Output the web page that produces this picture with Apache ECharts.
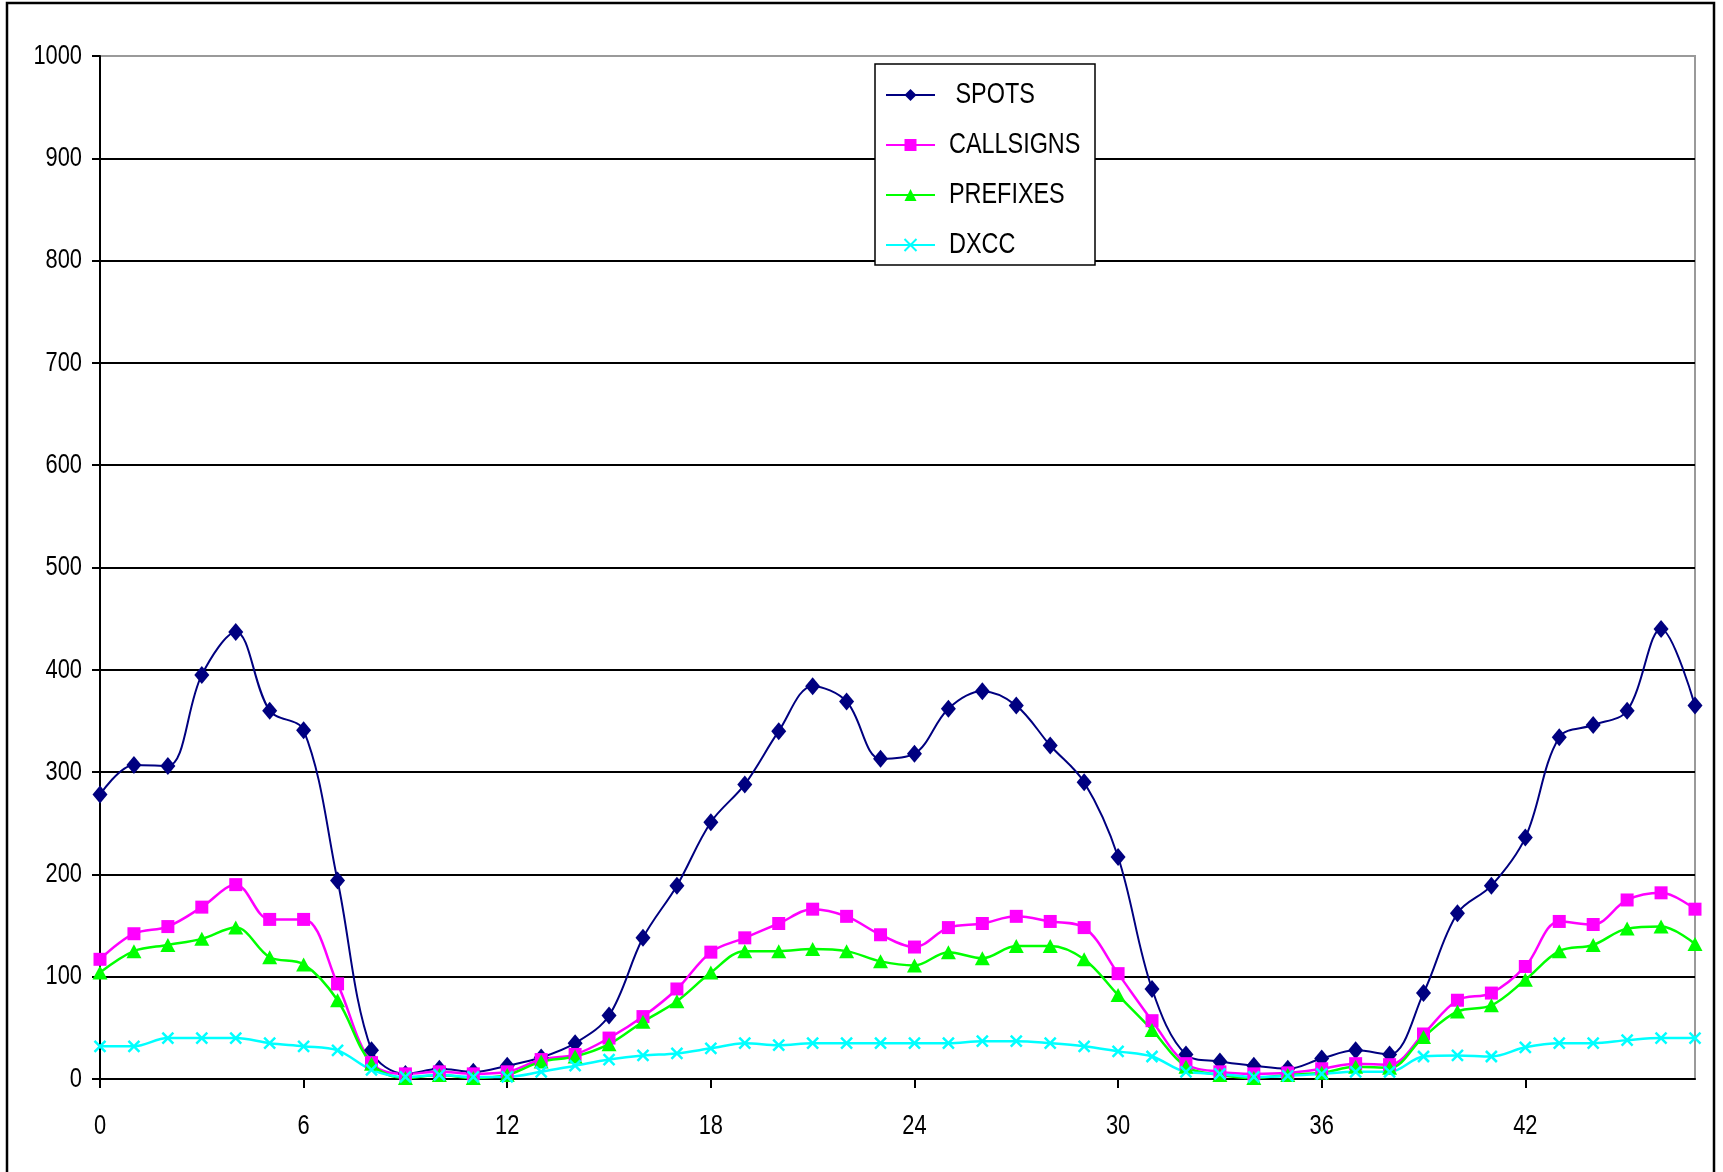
<!DOCTYPE html>
<html>
<head>
<meta charset="utf-8">
<script src="https://cdn.jsdelivr.net/npm/echarts@6/dist/echarts.min.js"></script>
<style>
  html, body { margin: 0; padding: 0; background: #fff; }
  #chart { width: 1723px; height: 1172px; }
</style>
</head>
<body>
<div id="chart"></div>
<script>
// Hour index along the x axis (0..47)
const hours = Array.from({ length: 48 }, (_, i) => String(i));

const spots = [278, 307, 306, 395, 437, 360, 341, 194, 28, 5, 10, 7, 13, 21, 35, 62,
  138, 189, 251, 288, 340, 384, 369, 313, 318, 362, 379, 365, 326, 290, 217, 88,
  24, 17, 13, 10, 20, 28, 24, 84, 162, 189, 236, 334, 346, 360, 440, 365];

const callsigns = [117, 142, 149, 168, 190, 156, 156, 93, 16, 5, 7, 5, 7, 19, 24, 40,
  61, 88, 124, 138, 152, 166, 159, 141, 129, 148, 152, 159, 154, 148, 103, 57,
  15, 7, 5, 6, 10, 15, 14, 44, 77, 84, 110, 154, 151, 175, 182, 166];

const prefixes = [104, 125, 131, 137, 148, 119, 112, 77, 15, 1, 4, 1, 4, 17, 22, 34,
  56, 76, 104, 125, 125, 127, 125, 115, 111, 124, 118, 130, 130, 117, 82, 48,
  12, 4, 1, 4, 6, 12, 11, 41, 66, 72, 97, 125, 131, 147, 149, 132];

const dxcc = [32, 32, 40, 40, 40, 35, 32, 28, 9, 2, 4, 2, 2, 7, 13, 19,
  23, 25, 30, 35, 33, 35, 35, 35, 35, 35, 37, 37, 35, 32, 27, 22,
  7, 5, 2, 3, 5, 7, 7, 22, 23, 22, 31, 35, 35, 38, 40, 40];

const yMin = 0, yMax = 1000, yStep = 100;

const FONT = '"Liberation Sans", Arial, sans-serif';
const crossPath = 'path://M0,0L10,10M10,0L0,10';

function lineSeries(name, data, color, symbol, size, width, extra) {
  return Object.assign({
    name: name,
    type: 'line',
    data: data,
    smooth: 0.35,
    symbol: symbol,
    symbolSize: size,
    showAllSymbol: true,
    lineStyle: { color: color, width: width },
    itemStyle: { color: color, borderColor: color, borderWidth: 0 },
    emphasis: { disabled: true },
    animation: false
  }, extra || {});
}

const chart = echarts.init(document.getElementById('chart'), null, { renderer: 'canvas' });

chart.setOption({
  backgroundColor: '#fff',
  animation: false,
  textStyle: { fontFamily: FONT },
  grid: {
    left: 100, right: 28, top: 56, bottom: 93,
    show: true, borderColor: '#9a9a9a', borderWidth: 2, backgroundColor: 'transparent'
  },
  legend: {
    orient: 'vertical',
    left: 875, top: 64,
    padding: [16, 14, 6, 10],
    itemGap: 20,
    itemWidth: 49, itemHeight: 15,
    textStyle: {
      fontFamily: FONT, fontSize: 30, color: '#000', lineHeight: 30, padding: [0, 0, 0, 9]
    },
    data: [' SPOTS', 'CALLSIGNS', 'PREFIXES', 'DXCC']
  },
  xAxis: {
    type: 'category',
    data: hours,
    boundaryGap: false,
    axisLine: { lineStyle: { color: '#000', width: 2 } },
    axisTick: { show: true, interval: 5, length: 9, lineStyle: { color: '#000', width: 2 } },
    axisLabel: { interval: 5, fontFamily: FONT, fontSize: 28, color: '#000', margin: 33 },
    splitLine: { show: false }
  },
  yAxis: {
    type: 'value',
    min: yMin, max: yMax, interval: yStep,
    axisLine: { show: true, lineStyle: { color: '#000', width: 2 } },
    axisTick: { show: true, length: 8, lineStyle: { color: '#000', width: 2 } },
    axisLabel: { fontFamily: FONT, fontSize: 28, color: '#000', margin: 18, formatter: v => String(v) },
    splitLine: { show: true, showMaxLine: false, lineStyle: { color: '#000', width: 2 } }
  },
  graphic: [
    // legend frame, drawn over the grid lines
    {
      type: 'rect',
      shape: { x: 875, y: 64, width: 220, height: 201 },
      style: { fill: '#fff', stroke: '#000', lineWidth: 1.5 },
      silent: true, z: 3
    },
    // outer chart frame
    {
      type: 'rect',
      shape: { x: 7, y: 3, width: 1707, height: 1200 },
      style: { fill: 'none', stroke: '#000', lineWidth: 2.5 },
      silent: true, z: 100
    }
  ],
  series: [
    lineSeries(' SPOTS', spots, '#000080', 'diamond', [15, 18], 2),
    lineSeries('CALLSIGNS', callsigns, '#ff00ff', 'rect', 13, 2.5),
    lineSeries('PREFIXES', prefixes, '#00ff00', 'triangle', [15, 14], 2.5),
    lineSeries('DXCC', dxcc, '#00ffff', crossPath, 11, 2.5, {
      itemStyle: { color: '#00ffff', borderColor: '#00ffff', borderWidth: 2.5 }
    })
  ]
});

// Narrow the text glyphs horizontally (condensed look), keeping each anchor fixed.
(function condenseText(factor) {
  const zr = chart.getZr();
  const list = zr.storage.getDisplayList(true);
  list.forEach(function (el) {
    if (el.type === 'tspan' && el.style && typeof el.style.text === 'string') {
      el.originX = el.style.x || 0;
      el.originY = el.style.y || 0;
      el.scaleX = factor;
      el.markRedraw();
    }
  });
  zr.refreshImmediately();
})(0.78);
</script>
</body>
</html>
